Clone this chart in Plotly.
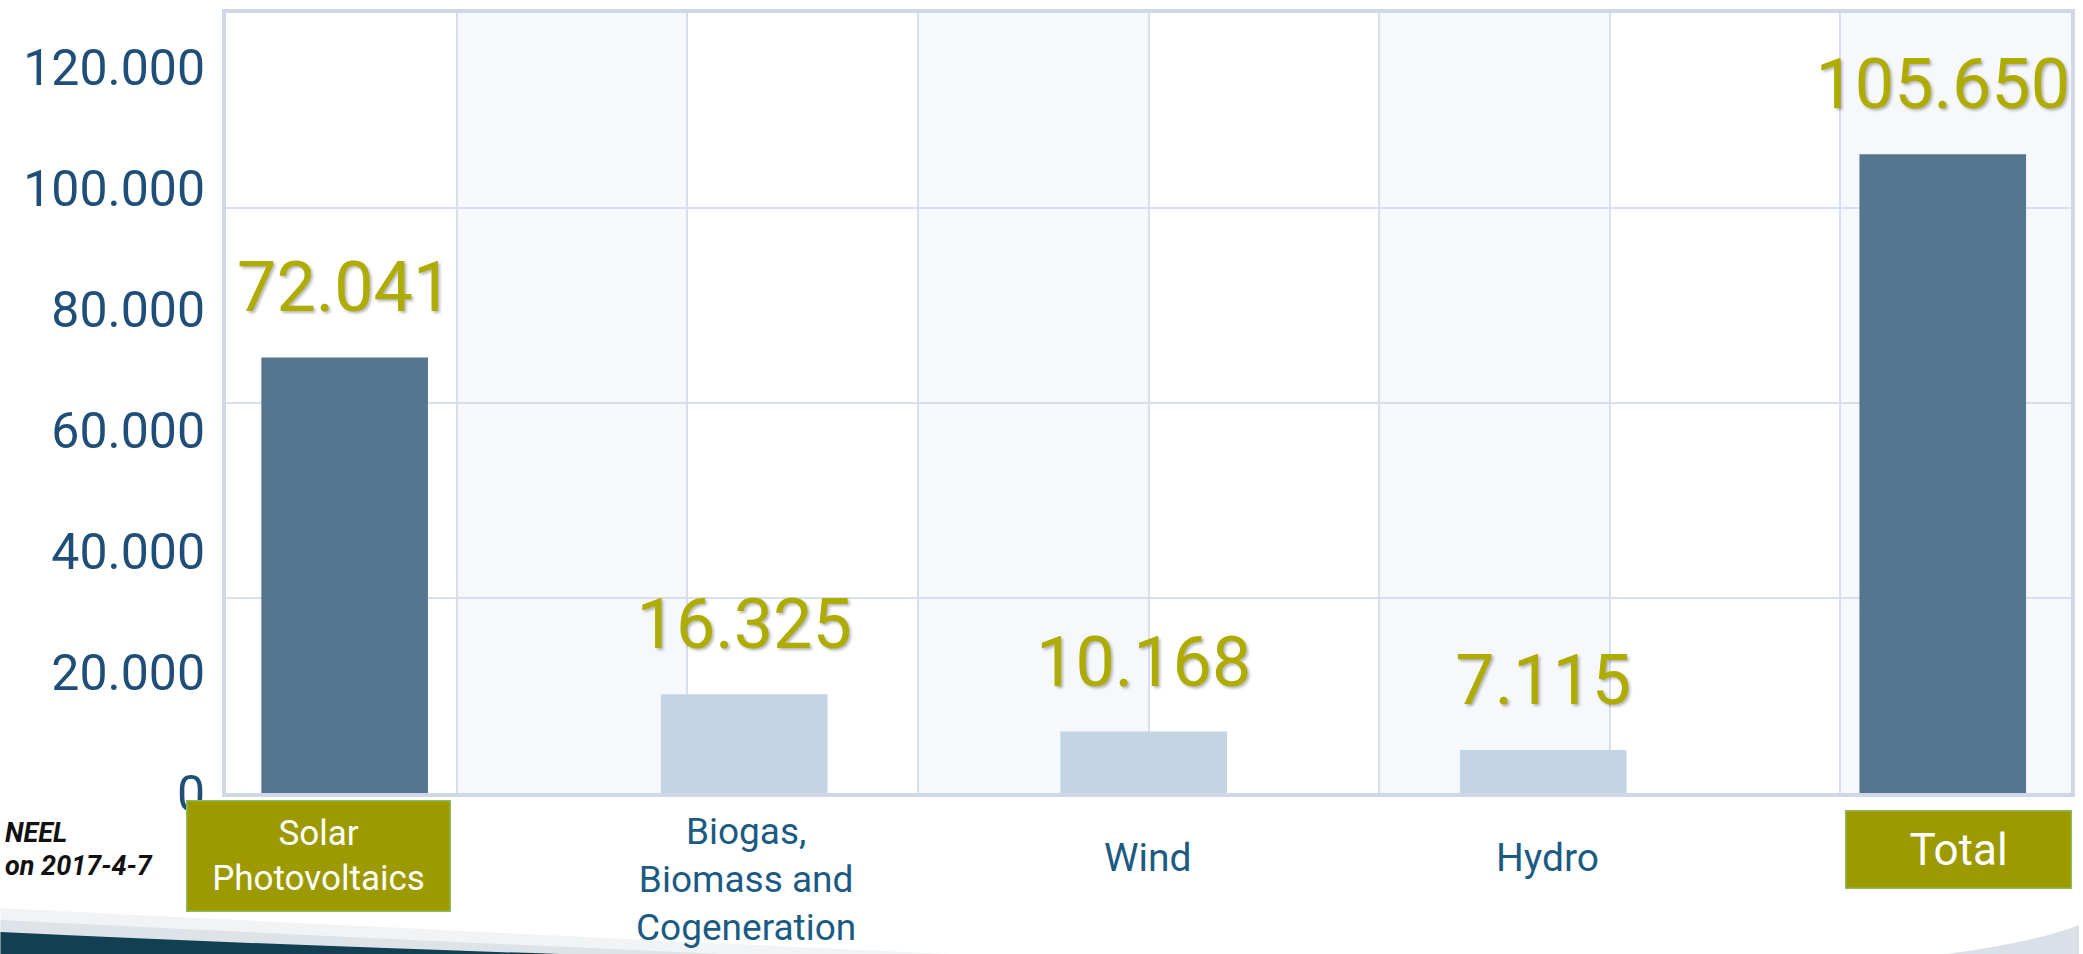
import plotly.graph_objects as go

# ---------------- data ----------------
categories = ["Solar Photovoltaics", "Biogas, Biomass and Cogeneration", "Wind", "Hydro", "Total"]
values = [72041, 16325, 10168, 7115, 105650]
category_labels = ["Solar<br>Photovoltaics", "Biogas,<br>Biomass and<br>Cogeneration", "Wind", "Hydro", "Total"]
highlighted = [True, False, False, False, True]
y_tick_values = [0, 20000, 40000, 60000, 80000, 100000, 120000]
band_columns = [1.5, 3.5, 5.5, 7.5]          # shaded background columns of the 8x4 frame grid
band_heights = [4, 4, 4, 4]
source_lines = ["NEEL", "on 2017-4-7"]

# ---------------- styles ----------------
FONT = "Roboto, 'Noto Sans', sans-serif"
DARK_BAR = "#56768f"
LIGHT_BAR = "#c3d4e4"
OLIVE_TEXT = "#aeac00"
OLIVE_BOX = "#9c9a00"
BOX_BORDER = "#8dbb55"
TICK_BLUE = "#1f4e79"
CAT_BLUE = "#1b5b83"
GRID = "#d8dfed"
FRAME = "#d0d8e8"

W, H = 2083, 954
M_L, M_R, M_T, M_B = 226, 8, 13, 161
PLOT_H = H - M_T - M_B


def py_to_paper(py):
    return (H - M_B - py) / PLOT_H


def px_to_paper(px):
    return (px - M_L) / (W - M_L - M_R)


fig = go.Figure()

# background bands on the frame grid (primary axes)
fig.add_trace(go.Bar(
    x=band_columns, y=band_heights, width=1,
    marker=dict(color="rgba(215,222,238,0.2)", line=dict(width=0)),
    hoverinfo="skip", showlegend=False, xaxis="x", yaxis="y",
))

# data bars (overlay axes)
fig.add_trace(go.Bar(
    x=categories, y=values, width=0.417,
    marker=dict(color=[DARK_BAR if h else LIGHT_BAR for h in highlighted], line=dict(width=0)),
    hovertemplate="%{x}: %{y:,}<extra></extra>",
    showlegend=False, xaxis="x2", yaxis="y2",
))

# value labels above the bars
fig.add_trace(go.Scatter(
    x=categories, y=values, mode="markers+text",
    marker=dict(size=44, opacity=0),
    texttemplate="%{y:,}", textposition="top center", cliponaxis=False,
    textfont=dict(family=FONT, size=70, color=OLIVE_TEXT, shadow="2px 2px 3px rgba(0,0,0,0.28)"),
    hoverinfo="skip", showlegend=False, xaxis="x2", yaxis="y2",
))

# category labels
label_shift = [-26, 2, 4, 4, 16]
for i, (cat, lab, hl) in enumerate(zip(categories, category_labels, highlighted)):
    if hl:
        big = cat == "Total"
        fig.add_annotation(
            x=cat, xref="x2", y=py_to_paper(849 if big else 856), yref="paper",
            text=lab, showarrow=False, xshift=label_shift[i],
            font=dict(family=FONT, size=44 if big else 35, color="white"),
            bgcolor=OLIVE_BOX, bordercolor=BOX_BORDER, borderwidth=1.5, borderpad=0,
            width=224 if big else 262, height=76 if big else 109,
            xanchor="center", yanchor="middle",
        )
    else:
        multi = "<br>" in lab
        fig.add_annotation(
            x=cat, xref="x2", y=py_to_paper(879 if multi else 858), yref="paper",
            text=lab, showarrow=False, xshift=label_shift[i],
            font=dict(family=FONT, size=37 if multi else 39, color=CAT_BLUE),
            xanchor="center", yanchor="middle",
        )

# source note on the left
for line, center_py in zip(source_lines, [833, 866]):
    fig.add_annotation(
        x=px_to_paper(3), xref="paper", y=py_to_paper(center_py), yref="paper",
        text=f"<b><i>{line}</i></b>", showarrow=False, xanchor="left", yanchor="middle",
        font=dict(family=FONT, size=27, color="#111111"),
    )

# decorative slide swoosh at the bottom
def pt(px, py):
    return f"{px_to_paper(px):.5f},{py_to_paper(py):.5f}"

fig.add_shape(type="path", xref="paper", yref="paper", layer="above", line=dict(width=0),
              fillcolor="rgba(120,140,160,0.10)",
              path=f"M {pt(0, 954)} L {pt(0, 908)} Q {pt(350, 926)} {pt(950, 954)} Z")
fig.add_shape(type="path", xref="paper", yref="paper", layer="above", line=dict(width=0),
              fillcolor="rgba(120,140,160,0.16)",
              path=f"M {pt(0, 954)} L {pt(0, 920)} Q {pt(300, 935)} {pt(720, 954)} Z")
fig.add_shape(type="path", xref="paper", yref="paper", layer="above", line=dict(width=0),
              fillcolor="#123f52",
              path=f"M {pt(0, 954)} L {pt(0, 932)} Q {pt(250, 944)} {pt(560, 954)} Z")
fig.add_shape(type="path", xref="paper", yref="paper", layer="above", line=dict(width=0),
              fillcolor="rgba(150,165,185,0.35)",
              path=f"M {pt(1950, 954)} Q {pt(2040, 942)} {pt(2083, 925)} L {pt(2083, 954)} Z")

fig.update_layout(
    width=W, height=H, autosize=False,
    margin=dict(l=M_L, r=M_R, t=M_T, b=M_B, pad=0),
    paper_bgcolor="white", plot_bgcolor="white",
    separators=",.",
    showlegend=False,
    font=dict(family=FONT),
    xaxis=dict(range=[0, 8], tick0=0, dtick=1, showgrid=True, gridcolor=GRID, gridwidth=2,
               showticklabels=False, ticks="", zeroline=False,
               showline=True, mirror=True, linecolor=FRAME, linewidth=4, fixedrange=True),
    yaxis=dict(range=[0, 4], tick0=0, dtick=1, showgrid=True, gridcolor=GRID, gridwidth=2,
               showticklabels=False, ticks="", zeroline=False,
               showline=True, mirror=True, linecolor=FRAME, linewidth=4, fixedrange=True),
    xaxis2=dict(overlaying="x", anchor="y2", type="category", range=[-0.297, 4.321],
                showticklabels=False, showgrid=False, zeroline=False, showline=False, ticks=""),
    yaxis2=dict(overlaying="y", anchor="x2", side="left", range=[0, 129000],
                tickvals=y_tick_values, tickformat=",", ticks="", ticklabelstandoff=20,
                tickfont=dict(family=FONT, size=50, color=TICK_BLUE),
                showgrid=False, zeroline=False, showline=False),
)

fig.write_html("out.html", config={"displayModeBar": False},
               post_script="document.body.style.margin='0px';")
